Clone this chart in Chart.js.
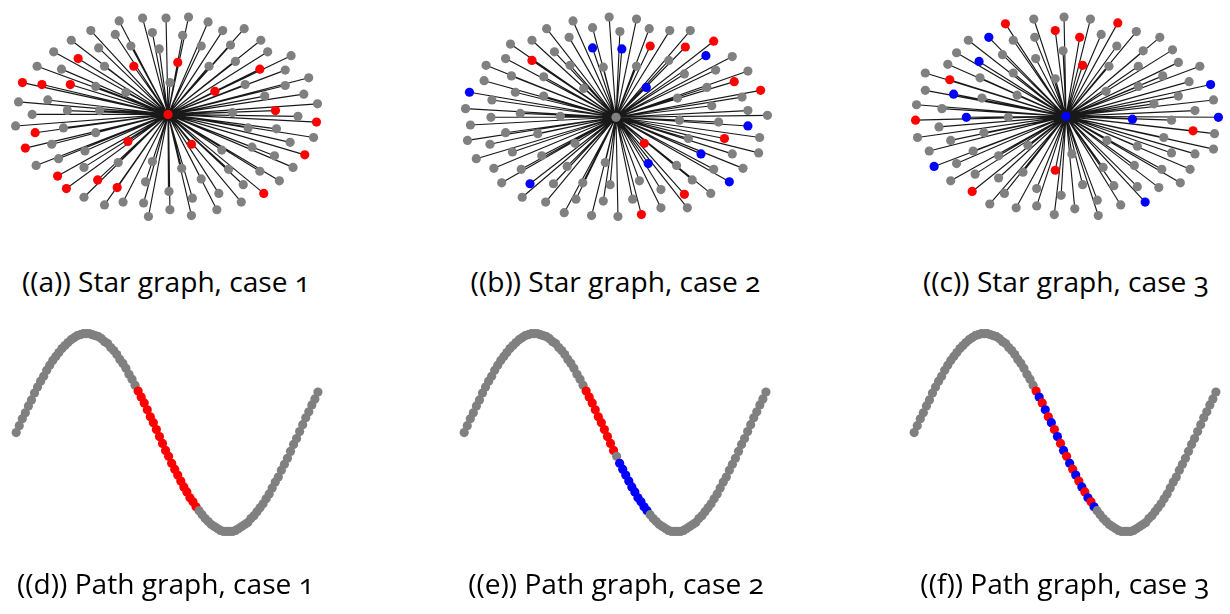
<!DOCTYPE html>
<html><head><meta charset="utf-8">
<script src="https://cdn.jsdelivr.net/npm/chart.js@4.4.1/dist/chart.umd.min.js"></script>
<style>
html,body{margin:0;padding:0;background:#fff;}
body{width:1230px;height:614px;overflow:hidden;position:relative;}
canvas{position:absolute;}
.cap{position:absolute;width:460px;text-align:center;font-family:"Open Sans",Lato,sans-serif;color:#000;white-space:nowrap;font-variant-numeric:oldstyle-nums;font-feature-settings:"onum" 1;}
</style></head><body>
<script>
// ---------- DATA ----------
// node groups: 0 = grey, 1 = red, 2 = blue
const captions = ["((a)) Star graph, case 1","((b)) Star graph, case 2","((c)) Star graph, case 3",
                  "((d)) Path graph, case 1","((e)) Path graph, case 2","((f)) Path graph, case 3"];

// Star (a): leaf offsets from hub (x right, y up)
const starAX = [-50,-26,-2,-79,-54,-16,-99,-38,-71,-9,-117,-92,-35,-134,-109,-65,-149,-129,-100,-74,-43,2,-153,-123,-139,-103,-70,-156,-107,-136,-74,-146,-119,-41,-85,-112,-135,-51,-16,-86,-113,-72,-104,-52,-23,-86,-65,-46,-25,-20,1,2,21,41,15,56,78,34,64,95,10,42,69,102,126,94,120,144,48,79,120,99,139,153,66,110,133,152,82,111,149,24,55,86,125,109,140,14,62,94,128,34,77,114,25,52,98,75,24,50];
const starAY = [97,100,100,87,83,85,77,71,69,68,65,58,50,50,47,50,33,31,31,29,23,33,13,15,0,4,4,-12,-14,-19,-19,-35,-31,-28,-38,-46,-53,-50,-49,-55,-64,-68,-77,-76,-70,-86,-94,-91,-92,-106,-80,-99,101,96,82,87,89,71,72,77,54,50,55,65,61,47,46,38,24,31,30,19,21,11,2,4,-2,-8,-14,-15,-24,-31,-37,-34,-29,-43,-42,-56,-57,-59,-55,-67,-73,-69,-87,-82,-82,-91,-105,-99];
const starAGroup = [0,0,0,0,0,0,0,0,0,0, 0,1,1,0,0,0,1,1,1,0, 0,0,0,0,0,0,0,0,0,1, 0,1,0,1,0,0,0,0,0,0, 1,1,1,1,0,0,0,0,0,0,
                    0,0,0,0,0,0,0,0,0,0, 1,0,0,0,0,1,0,0,1,0, 0,0,0,0,0,1,0,1,0,0, 0,1,0,0,0,0,1,0,0,0, 0,0,0,0,0,0,1,0,0,0];
const starAHub = 1;

// Star (b)
const starBX = [-44,-7,-71,-24,4,-108,-86,-48,-24,6,-63,-113,-86,-133,-47,-13,-107,-74,-135,-33,-150,-103,-74,-127,-154,-98,-57,-128,-149,-113,-80,-152,-129,-42,-106,-76,-143,-11,-50,-125,-97,-88,-117,-64,-34,-6,-96,-72,-41,-13,-53,-25,2,
                21,34,55,76,35,71,100,92,119,21,54,70,102,135,31,93,121,148,63,98,129,135,155,65,105,135,111,147,74,29,87,119,146,33,62,100,130,78,116,24,46,97,70,17,46,73,26];
const starBY = [100,104,92,93,89,76,80,83,72,71,68,61,59,54,54,52,43,42,38,30,26,26,22,18,9,4,1,0,-8,-16,-17,-24,-28,-27,-36,-40,-43,-47,-51,-53,-54,-69,-68,-69,-68,-70,-83,-88,-85,-87,-99,-102,-103,
                102,92,90,90,74,73,79,64,63,53,59,45,49,48,31,31,37,28,20,12,21,7,2,-3,-5,-9,-22,-21,-22,-27,-38,-38,-37,-48,-50,-54,-53,-65,-67,-66,-75,-79,-80,-85,-94,-94,-101];
const starBGroup = [0,0,0,0,0,0,0,0,2,2, 0,0,1,0,0,0,0,0,0,0, 2,0,0,0,0,0,0,0,0,0, 0,0,0,0,0,0,0,0,0,0, 0,2,0,0,0,0,0,0,0,0, 0,0,0,
                    0,0,0,0,1,1,1,2,0,0, 0,0,0,0,2,0,1,1,0,0, 0,0,0,0,0,2,1,0,0,1, 2,0,0,2,0,0,0,0,2,0, 0,0,1,0,0,0,1];
const starBHub = 0;

// Star (c)
const starCX = [-62,-33,-2,-11,-100,-79,-54,-32,-3,-112,-65,-31,-89,-121,-54,-144,-119,-88,-11,-144,-115,-50,-86,-153,-127,-102,-59,-154,-130,-84,-152,-118,-39,-140,-95,-69,-112,-135,-11,-44,-93,-69,-118,-96,-30,-63,-5,-78,-51,-30,-12,
                25,53,14,36,72,96,52,79,109,17,44,74,115,137,99,41,74,126,148,115,90,151,132,68,108,156,130,152,100,42,73,151,108,132,6,70,38,98,127,17,49,73,95,117,81,32,56,9,33];
const starCY = [96,101,103,89,79,82,79,82,68,66,64,60,57,54,45,45,38,40,39,27,23,22,19,12,8,-1,-1,-4,-11,-17,-22,-25,-30,-36,-36,-41,-49,-52,-56,-58,-60,-64,-67,-78,-75,-80,-82,-91,-95,-93,-102,
                101,97,82,85,88,82,73,68,69,53,52,52,56,52,42,26,31,36,33,21,13,17,6,-3,-4,-1,-15,-18,-22,-25,-31,-34,-38,-39,-39,-51,-53,-55,-55,-71,-72,-73,-74,-69,-89,-87,-92,-96,-103];
const starCGroup = [1,0,0,1,0,2,0,0,0,0, 0,0,2,0,0,0,1,0,0,0, 2,0,0,0,0,2,0,1,0,0, 0,0,0,0,0,0,0,2,1,0, 0,0,0,1,0,0,0,0,0,0, 0,
                    0,1,1,0,0,0,0,0,0,1, 0,0,0,0,0,0,0,0,2,0, 0,0,0,2,0,2,1,0,0,0, 0,0,0,0,0,0,0,0,0,0, 0,0,0,0,2,0,0,0,0];
const starCHub = 2;

// Path graph: node height along the path (same layout for d, e, f)
const pathY = [0,0.07,0.14,0.2,0.27,0.33,0.4,0.46,0.52,0.57,0.63,0.68,0.73,0.77,0.81,0.85,0.88,0.91,0.94,0.96,0.98,0.99,1,1,1,0.99,0.98,0.97,0.95,0.92,0.9,0.86,0.83,0.79,0.74,0.7,0.65,0.59,0.54,0.48,0.42,0.36,0.3,0.23,0.16,0.1,0.03,-0.04,-0.11,-0.18,-0.24,-0.31,-0.37,-0.43,-0.49,-0.55,-0.6,-0.66,-0.7,-0.75,-0.79,-0.83,-0.87,-0.9,-0.93,-0.95,-0.97,-0.99,-1,-1,-1,-1,-0.99,-0.97,-0.95,-0.93,-0.91,-0.87,-0.84,-0.8,-0.76,-0.72,-0.67,-0.62,-0.56,-0.5,-0.45,-0.38,-0.32,-0.26,-0.19,-0.12,-0.06,0.01,0.08,0.15,0.21,0.28,0.34,0.41];
const pathARed  = [40,41,42,43,44,45,46,47,48,49,50,51,52,53,54,55,56,57,58,59];
const pathABlue = [];
const pathBRed  = [40,41,42,43,44,45,46,47,48,49];
const pathBBlue = [51,52,53,54,55,56,57,58,59,60];
const pathCRed  = [40,42,44,46,48,50,52,54,56,58];
const pathCBlue = [41,43,45,47,49,51,53,55,57,59];

// ---------- STYLE / LAYOUT ----------
const COLORS = ['#808080', '#ff0000', '#0000ff'];
const NODE_R = 4.6;
const starCenters = [[168,114],[616,117],[1065.5,116]];
const pathX0 = [12, 460, 909.5];
const PATH_DX = 3.13, PATH_YMID = 432.5, PATH_AMP = 102.5;
// caption: [centre x, baseline y]
const capPos = [[166,289],[615.5,289],[1066,289],[165.5,591],[616,591],[1065,591]];
const CAP_FONT = '"Open Sans"';
const CAP_TARGET_W = 289;

Chart.defaults.animation = false;

function makeCanvas(left, top, w, h) {
  const c = document.createElement('canvas');
  c.width = w; c.height = h;
  c.style.left = left + 'px'; c.style.top = top + 'px';
  c.style.width = w + 'px'; c.style.height = h + 'px';
  document.body.appendChild(c);
  return c;
}

const baseOpts = (xmin, xmax, ymin, ymax) => ({
  responsive: false, animation: false, devicePixelRatio: 1,
  layout: { padding: 0 },
  plugins: { legend: { display: false }, tooltip: { enabled: false }, title: { display: false } },
  events: [],
  scales: {
    x: { type: 'linear', display: false, min: xmin, max: xmax },
    y: { type: 'linear', display: false, min: ymin, max: ymax }
  }
});

function drawStar(idx, xs, ys, groups, hub) {
  const [cx, cy] = starCenters[idx];
  const W = 400, H = 250;
  const canvas = makeCanvas(cx - W/2, 0, W, H);
  const edges = [];
  const leaves = [];
  for (let i = 0; i < xs.length; i++) {
    edges.push({x: 0, y: 0}, {x: xs[i], y: ys[i]});
    leaves.push({x: xs[i], y: ys[i]});
  }
  const cols = leaves.map((p, i) => COLORS[groups[i] || 0]);
  new Chart(canvas, {
    type: 'scatter',
    data: { datasets: [
      { data: [{x: 0, y: 0}], pointRadius: NODE_R, pointBorderWidth: 0, pointBackgroundColor: COLORS[hub], pointBorderColor: COLORS[hub], showLine: false, order: 0, clip: false },
      { data: leaves, pointRadius: NODE_R, pointBorderWidth: 0, pointBackgroundColor: cols, pointBorderColor: cols, showLine: false, order: 1, clip: false },
      { data: edges, showLine: true, borderColor: 'rgba(0,0,0,0.9)', borderWidth: 1.15, pointRadius: 0, tension: 0, fill: false, order: 2, clip: false }
    ]},
    options: baseOpts(-W/2, W/2, cy - H, cy)
  });
}

function drawPath(idx, red, blue) {
  const x0 = pathX0[idx];
  const L = x0 - 15, T = 305, W = 350, H = 260;
  const canvas = makeCanvas(L, T, W, H);
  const pts = pathY.map((v, i) => ({x: i, y: v}));
  const cols = pathY.map((v, i) => red.includes(i) ? COLORS[1] : (blue.includes(i) ? COLORS[2] : COLORS[0]));
  new Chart(canvas, {
    type: 'scatter',
    data: { datasets: [
      { data: pts, pointRadius: NODE_R, pointBorderWidth: 0, pointBackgroundColor: cols, pointBorderColor: cols, showLine: false, clip: false }
    ]},
    options: baseOpts((L - x0) / PATH_DX, (L + W - x0) / PATH_DX,
                      (PATH_YMID - (T + H)) / PATH_AMP, (PATH_YMID - T) / PATH_AMP)
  });
}

drawStar(0, starAX, starAY, starAGroup, starAHub);
drawStar(1, starBX, starBY, starBGroup, starBHub);
drawStar(2, starCX, starCY, starCGroup, starCHub);
drawPath(0, pathARed, pathABlue);
drawPath(1, pathBRed, pathBBlue);
drawPath(2, pathCRed, pathCBlue);

// caption font size fitted to the reference caption width
const mctx = document.createElement('canvas').getContext('2d');
mctx.font = '24px ' + CAP_FONT;
const w24 = mctx.measureText(captions[0]).width;
const capSize = Math.max(18, Math.min(30, 24 * CAP_TARGET_W / w24));

captions.forEach((t, i) => {
  const d = document.createElement('div');
  d.className = 'cap';
  d.textContent = t;
  d.style.fontSize = capSize + 'px';
  d.style.lineHeight = capSize + 'px';
  d.style.left = (capPos[i][0] - 230) + 'px';
  // approx baseline ~ 0.78 * font size below top for line-height = font size
  d.style.top = (capPos[i][1] - 0.80 * capSize) + 'px';
  document.body.appendChild(d);
});
</script>
</body></html>
